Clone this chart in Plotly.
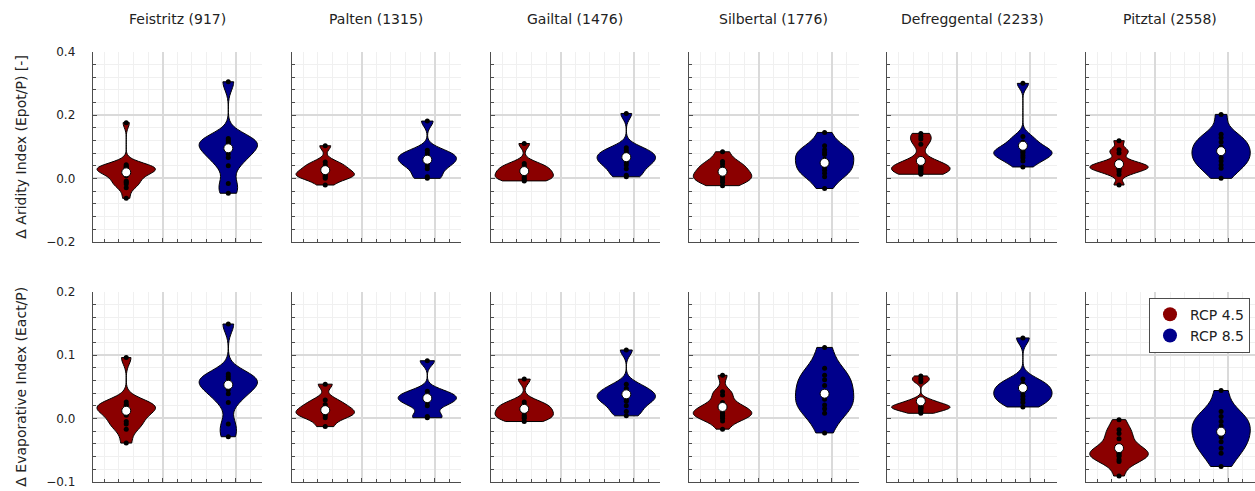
import numpy as np
import plotly.graph_objects as go

# ---------------- data ----------------
catchments = ["Feistritz", "Palten", "Gailtal", "Silbertal", "Defreggental", "Pitztal"]
elevations = [917, 1315, 1476, 1776, 2233, 2558]
scenario_names = ["RCP 4.5", "RCP 8.5"]
scenario_x = [0.5, 1.9]

aridity_rcp45 = [
    [0.176, 0.043, 0.040, 0.037, 0.034, 0.032, 0.030, 0.028, 0.025, 0.020, 0.015, 0.008,
     -0.008, -0.012, -0.018, -0.030, -0.063],
    [0.103, 0.052, 0.042, 0.035, 0.026, 0.018, 0.012, 0.008, 0.005, 0.000, -0.021],
    [0.110, 0.047, 0.040, 0.033, 0.025, 0.020, 0.012, 0.005, 0.000, -0.005, -0.008],
    [0.084, 0.053, 0.045, 0.035, 0.025, 0.015, 0.008, 0.003, -0.005, -0.012, -0.023],
    [0.142, 0.132, 0.124, 0.108, 0.050, 0.045, 0.040, 0.037, 0.034, 0.031, 0.028, 0.025,
     0.020, 0.016, 0.013],
    [0.119, 0.090, 0.080, 0.055, 0.048, 0.042, 0.038, 0.035, 0.032, 0.028, 0.022, 0.012, -0.021],
]
aridity_rcp85 = [
    [0.305, 0.126, 0.120, 0.116, 0.110, 0.095, 0.077, 0.066, 0.040, -0.016, -0.047],
    [0.181, 0.089, 0.080, 0.072, 0.065, 0.058, 0.050, 0.040, 0.030, 0.005, 0.000],
    [0.205, 0.097, 0.088, 0.080, 0.072, 0.065, 0.058, 0.050, 0.042, 0.030, 0.010, 0.005],
    [0.145, 0.103, 0.090, 0.082, 0.075, 0.060, 0.050, 0.035, 0.026, 0.016, 0.005, -0.032],
    [0.300, 0.132, 0.115, 0.100, 0.090, 0.085, 0.080, 0.072, 0.065, 0.055, 0.036],
    [0.202, 0.139, 0.128, 0.115, 0.100, 0.090, 0.080, 0.065, 0.055, 0.042, 0.032, 0.000],
]
evap_rcp45 = [
    [0.096, 0.026, 0.022, 0.020, 0.018, 0.016, 0.012, 0.005, -0.005, -0.009, -0.017, -0.039],
    [0.054, 0.029, 0.022, 0.016, 0.012, 0.008, 0.005, 0.001, -0.013],
    [0.062, 0.026, 0.022, 0.018, 0.014, 0.010, 0.005, 0.002, 0.000, -0.005],
    [0.068, 0.042, 0.037, 0.025, 0.020, 0.016, 0.013, 0.010, 0.008, 0.005, 0.003, 0.000,
     -0.004, -0.017],
    [0.067, 0.062, 0.058, 0.030, 0.027, 0.024, 0.022, 0.020, 0.019, 0.018, 0.017, 0.016,
     0.015, 0.013, 0.010, 0.008],
    [-0.002, -0.018, -0.024, -0.032, -0.045, -0.050, -0.053, -0.055, -0.058, -0.060, -0.065,
     -0.068, -0.091],
]
evap_rcp85 = [
    [0.149, 0.070, 0.066, 0.062, 0.058, 0.053, 0.045, 0.039, 0.025, -0.009, -0.029],
    [0.091, 0.043, 0.038, 0.034, 0.030, 0.026, 0.020, 0.003, 0.001],
    [0.108, 0.054, 0.047, 0.042, 0.038, 0.034, 0.030, 0.027, 0.020, 0.011, 0.004],
    [0.112, 0.079, 0.068, 0.061, 0.052, 0.040, 0.030, 0.021, 0.015, 0.008, -0.023],
    [0.127, 0.062, 0.055, 0.050, 0.045, 0.040, 0.035, 0.030, 0.025, 0.018],
    [0.044, 0.011, 0.003, -0.005, -0.012, -0.020, -0.030, -0.037, -0.047, -0.055, -0.076],
]
# white markers (ensemble central value)
aridity_center_rcp45 = [0.019, 0.026, 0.023, 0.021, 0.055, 0.045]
aridity_center_rcp85 = [0.095, 0.059, 0.067, 0.049, 0.103, 0.086]
evap_center_rcp45 = [0.012, 0.013, 0.015, 0.018, 0.027, -0.047]
evap_center_rcp85 = [0.053, 0.032, 0.038, 0.039, 0.048, -0.021]

row_titles = ["Δ Aridity Index (Epot/P) [-]", "Δ Evaporative Index (Eact/P)"]

# ---------------- styling / layout ----------------
W, H = 1255, 491
colors = ["#8b0000", "#00008b"]
panel_left_px = [92.7, 291.7, 490.7, 689.0, 887.3, 1085.5]
panel_w_px = 169.5
row_px = [(51.7, 241.7), (291.7, 481.7)]
y_ranges = [[-0.2, 0.4], [-0.1, 0.2]]
y_dticks = [0.2, 0.1]
x_range = [0.04, 2.365]

FONT = "DejaVu Sans"
major_grid = "#dadada"
minor_grid = "#f0f0f0"
axis_col = "#4d4d4d"


def julia_bw(v):
    v = np.asarray(v, dtype=float)
    n = len(v)
    s = v.std(ddof=1)
    q75, q25 = np.percentile(v, [75, 25])
    iqr = q75 - q25
    w = min(s, iqr / 1.34) if iqr > 0 else s
    return 0.9 * w * n ** -0.2


rows_data = [(aridity_rcp45, aridity_rcp85, aridity_center_rcp45, aridity_center_rcp85),
             (evap_rcp45, evap_rcp85, evap_center_rcp45, evap_center_rcp85)]

fig = go.Figure()
layout = {}
annotations = []

for r in range(2):
    d45, d85, c45, c85 = rows_data[r]
    for c in range(6):
        i = r * 6 + c + 1
        xa = "x" if i == 1 else f"x{i}"
        ya = "y" if i == 1 else f"y{i}"
        series = [d45[c], d85[c]]
        centers = [c45[c], c85[c]]
        for s in range(2):
            vals = series[s]
            fig.add_trace(go.Violin(
                x=[scenario_x[s]] * len(vals), y=vals,
                xaxis=xa, yaxis=ya,
                width=0.8, spanmode="hard", bandwidth=julia_bw(vals),
                fillcolor=colors[s], line=dict(color="black", width=1),
                opacity=1, points="all", pointpos=0, jitter=0,
                marker=dict(color="black", size=5),
                box_visible=False, meanline_visible=False,
                showlegend=False, hoverinfo="skip", name=scenario_names[s],
            ))
            fig.add_trace(go.Scatter(
                x=[scenario_x[s]], y=[centers[s]], xaxis=xa, yaxis=ya,
                mode="markers",
                marker=dict(color="white", size=9, line=dict(color="black", width=1)),
                showlegend=False, hoverinfo="skip",
            ))

        left = panel_left_px[c]
        top, bot = row_px[r]
        layout[f"xaxis{i}"] = dict(
            domain=[left / W, min(1.0, (left + panel_w_px) / W)], anchor=ya,
            range=x_range, tick0=0, dtick=1, showticklabels=False,
            ticks="inside", ticklen=4, tickcolor=axis_col,
            showgrid=True, gridcolor=major_grid, gridwidth=2,
            minor=dict(dtick=0.2, tick0=0, ticks="inside", ticklen=3, tickcolor=axis_col,
                       showgrid=True, gridcolor=minor_grid, gridwidth=1),
            showline=True, linecolor=axis_col, linewidth=1, zeroline=False,
            automargin=False,
        )
        layout[f"yaxis{i}"] = dict(
            domain=[1 - bot / H, 1 - top / H], anchor=xa,
            range=y_ranges[r], tick0=0, dtick=y_dticks[r], tickformat=".1f",
            showticklabels=(c == 0), ticklabelstandoff=14,
            tickfont=dict(family=FONT, size=12, color="#222"),
            ticks="inside", ticklen=4, tickcolor=axis_col,
            showgrid=True, gridcolor=major_grid, gridwidth=2,
            minor=dict(dtick=y_dticks[r] / 5, tick0=0, ticks="inside", ticklen=3,
                       tickcolor=axis_col, showgrid=True, gridcolor=minor_grid, gridwidth=1),
            showline=True, linecolor=axis_col, linewidth=1, zeroline=False,
            automargin=False,
        )
        if r == 0:
            annotations.append(dict(
                text=f"{catchments[c]} ({elevations[c]})", xref="paper", yref="paper",
                x=(left + panel_w_px / 2) / W, y=1 - 19 / H, xanchor="center", yanchor="middle",
                showarrow=False, font=dict(family=FONT, size=14, color="#222")))
    annotations.append(dict(
        text=row_titles[r], xref="paper", yref="paper", textangle=-90,
        x=21 / W, y=1 - (row_px[r][0] + row_px[r][1]) / 2 / H,
        xanchor="center", yanchor="middle", showarrow=False,
        font=dict(family=FONT, size=14, color="#222")))

# legend entries
for s in range(2):
    fig.add_trace(go.Scatter(x=[None], y=[None], xaxis="x12", yaxis="y12", mode="markers",
                             marker=dict(color=colors[s], size=14), name=scenario_names[s]))

fig.update_layout(
    width=W, height=H, margin=dict(l=0, r=0, t=0, b=0, autoexpand=False),
    paper_bgcolor="white", plot_bgcolor="white",
    violinmode="overlay", annotations=annotations,
    font=dict(family=FONT, size=12, color="#222"),
    legend=dict(x=1250 / W, y=1 - 297.7 / H, xanchor="right", yanchor="top",
                bgcolor="white", bordercolor=axis_col, borderwidth=1,
                font=dict(family=FONT, size=14, color="#222"),
                tracegroupgap=0, itemsizing="trace"),
    **layout,
)

pin_script = (
    "document.documentElement.style.margin='0';"
    "document.body.style.margin='0';document.body.style.overflow='hidden';"
    "var d=document.getElementById('{plot_id}');"
    "d.style.position='fixed';d.style.top='0px';d.style.left='0px';"
)
fig.write_html("out.html", config={"displayModeBar": False}, post_script=pin_script)
